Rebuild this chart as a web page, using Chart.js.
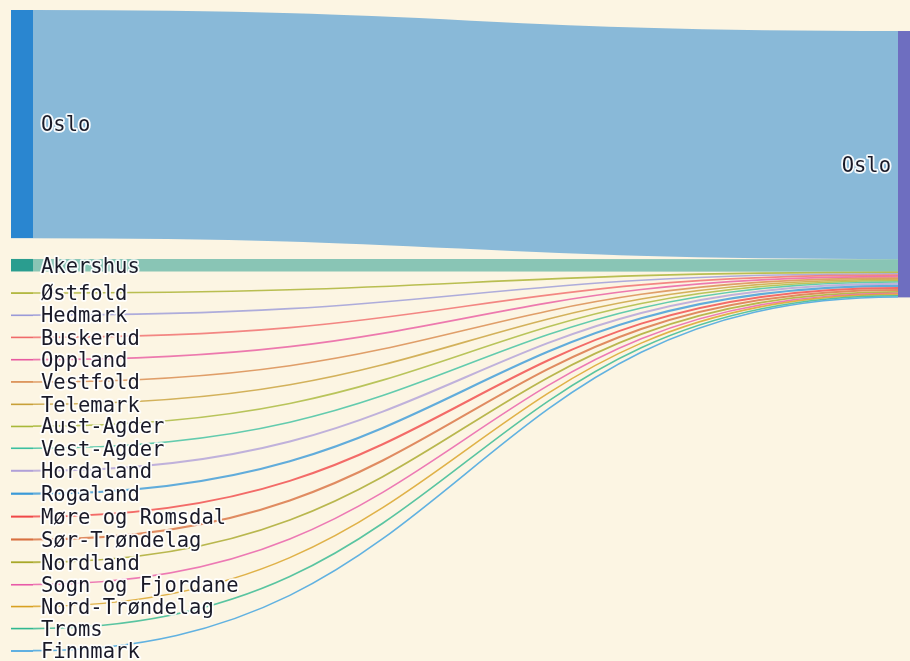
<!DOCTYPE html>
<html lang="no">
<head>
<meta charset="UTF-8">
<title>Flytting til Oslo</title>
<script src="https://cdn.jsdelivr.net/npm/chart.js"></script>
<style>
  html, body { margin: 0; padding: 0; background: #fcf5e3; }
  #wrap { width: 910px; height: 661px; }
</style>
</head>
<body>
<div id="wrap"><canvas id="sankey"></canvas></div>
<script>
// kilder (venstre side) og verdier inn til Oslo
const fylker = ['Oslo', 'Akershus', 'Østfold', 'Hedmark', 'Buskerud', 'Oppland', 'Vestfold',
  'Telemark', 'Aust-Agder', 'Vest-Agder', 'Hordaland', 'Rogaland', 'Møre og Romsdal',
  'Sør-Trøndelag', 'Nordland', 'Sogn og Fjordane', 'Nord-Trøndelag', 'Troms', 'Finnmark'];
const verdier = [228, 12.5, 1.4, 1.3, 1.5, 1.4, 1.6, 1.3, 1.0, 1.5, 2.0, 2.2, 2.0, 2.1, 1.8, 1.0, 1.2, 1.6, 0.8];
const farger = ['#2a86d0', '#2a9d8f', '#a8b02c', '#9a9ad8', '#f06a6a', '#e85aa0', '#d8884a',
  '#c8a038', '#a8b838', '#3cc0a0', '#b0a0d8', '#3a9ad8', '#f04848', '#d87040', '#a8a828',
  '#e85aa8', '#d8a020', '#30b890', '#3aa0e0'];
const maal = 'Oslo';
const maalFarge = '#6e6ec0';

const NODE_GAP = 20.8;   // luft mellom nodene, i verdienheter
const totalt = verdier.reduce((a, b) => a + b, 0);
const yMax = totalt + NODE_GAP * (fylker.length - 1);

// enkel sankey-layout
const venstre = [];
let pos = 0;
verdier.forEach((v, i) => {
  venstre.push({ navn: fylker[i], y0: pos, y1: pos + v, farge: farger[i] });
  pos += v + NODE_GAP;
});
const senter = venstre.reduce((s, n) => s + (n.y1 - n.y0) * (n.y0 + n.y1) / 2, 0) / totalt;
const hoyre = { navn: maal, y0: senter - totalt / 2, y1: senter + totalt / 2, farge: maalFarge };

function hexA(hex, a) {
  const r = parseInt(hex.slice(1, 3), 16), g = parseInt(hex.slice(3, 5), 16), b = parseInt(hex.slice(5, 7), 16);
  return `rgba(${r},${g},${b},${a})`;
}

const sankeyPlugin = {
  id: 'sankey',
  afterDatasetsDraw(chart) {
    const ctx = chart.ctx;
    const x = chart.scales.x, y = chart.scales.y;
    const nodeW = 22, hoyreW = 12;
    const xL = x.getPixelForValue(0) + nodeW;
    const xR = x.getPixelForValue(1) - hoyreW;
    const xm = (xL + xR) / 2;

    // lenker
    let yr = hoyre.y0;
    venstre.forEach((n, i) => {
      const v = verdier[i];
      const a = y.getPixelForValue(n.y0 + v / 2);
      const b = y.getPixelForValue(yr + v / 2);
      const w = Math.abs(y.getPixelForValue(v) - y.getPixelForValue(0));
      ctx.save();
      ctx.beginPath();
      ctx.moveTo(xL, a);
      ctx.bezierCurveTo(xm, a, xm, b, xR, b);
      ctx.strokeStyle = hexA(n.farge, w < 4 ? 0.8 : 0.55);
      ctx.lineWidth = Math.max(1.6, w);
      ctx.stroke();
      ctx.restore();
      yr += v;
    });

    // noder
    venstre.forEach(n => {
      const top = y.getPixelForValue(n.y0), bot = y.getPixelForValue(n.y1);
      ctx.fillStyle = n.farge;
      ctx.fillRect(x.getPixelForValue(0), top, nodeW, Math.max(1.6, bot - top));
    });
    const ht = y.getPixelForValue(hoyre.y0), hb = y.getPixelForValue(hoyre.y1);
    ctx.fillStyle = hoyre.farge;
    ctx.fillRect(xR, ht, hoyreW, hb - ht);

    // etiketter
    ctx.save();
    ctx.font = '20.5px "DejaVu Sans Mono", monospace';
    ctx.textBaseline = 'middle';
    ctx.lineJoin = 'round';
    ctx.lineWidth = 3.5;
    ctx.strokeStyle = 'rgba(255,255,255,0.92)';
    ctx.fillStyle = '#1a1a28';
    ctx.textAlign = 'left';
    venstre.forEach(n => {
      const ym = y.getPixelForValue((n.y0 + n.y1) / 2) + 2;
      ctx.strokeText(n.navn, xL + 8, ym);
      ctx.fillText(n.navn, xL + 8, ym);
    });
    ctx.textAlign = 'right';
    const ymr = y.getPixelForValue((hoyre.y0 + hoyre.y1) / 2) + 2;
    ctx.strokeText(hoyre.navn, xR - 7, ymr);
    ctx.fillText(hoyre.navn, xR - 7, ymr);
    ctx.restore();
  }
};

new Chart(document.getElementById('sankey'), {
  type: 'scatter',
  data: { datasets: [{ data: [] }] },
  options: {
    responsive: true,
    maintainAspectRatio: false,
    animation: false,
    layout: { padding: { left: 11, top: 10, right: 0, bottom: 10 } },
    scales: {
      x: { type: 'linear', display: false, min: 0, max: 1 },
      y: { type: 'linear', display: false, min: 0, max: yMax, reverse: true }
    },
    plugins: { legend: { display: false }, tooltip: { enabled: false } }
  },
  plugins: [sankeyPlugin]
});
</script>
</body>
</html>
